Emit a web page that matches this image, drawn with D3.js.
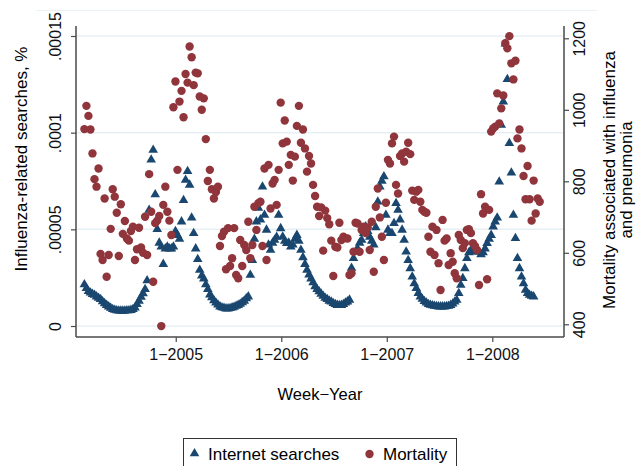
<!DOCTYPE html>
<html lang="en">
<head>
<meta charset="UTF-8">
<title>Influenza searches and mortality</title>
<script src="https://d3js.org/d3.v7.min.js"></script>
<style type="text/css">
    body { margin: 0; background: #fff; }
    svg { display: block; font-family: "Liberation Sans", Arial, sans-serif; }
</style>
</head>
<body>
<div id="chartArea"></div>
<script type="text/javascript">
// weekly observations, first week starting 20 Feb 2004
var firstWeek = new Date(2004, 1, 20);

// internet searches, in units of 1e-5 %
var searches = [
    2.15, 1.95, 1.8, 1.72, 1.65, 1.6, 1.52, 1.45, 1.38, 1.27,
    1.17, 1.08, 1.0, 0.93, 0.87, 0.83, 0.8, 0.79, 0.78, 0.78,
    0.79, 0.8, 0.8, 0.82, 0.87, 0.95, 1.12, 1.3, 1.5, 1.68,
    1.9, 2.35, 6.0, 8.6, 9.1, 6.8, 5.0, 4.3, 4.1, 3.2,
    4.0, 4.1, 4.0, 4.0, 4.1, 4.9, 4.7, 4.5, 5.4, 6.5,
    7.55, 8.0, 7.3, 5.6, 4.8, 4.0, 3.45, 2.9, 2.6, 2.45,
    2.15, 1.9, 1.62, 1.48, 1.32, 1.2, 1.1, 1.0, 0.96, 0.93,
    0.9, 0.9, 0.92, 0.95, 0.98, 1.03, 1.08, 1.14, 1.22, 1.3,
    1.42, 1.52, 2.64, 3.4, 4.5, 5.4, 6.1, 5.5, 7.2, 5.74,
    4.97, 4.2, 3.93, 4.3, 4.45, 4.6, 5.74, 5.05, 4.62, 4.4,
    4.28, 4.3, 4.1, 4.2, 4.5, 4.7, 4.4, 3.93, 3.55, 3.2,
    2.9, 2.65, 2.45, 2.25, 2.05, 1.9, 1.78, 1.66, 1.55, 1.45,
    1.38, 1.3, 1.25, 1.18, 1.12, 1.08, 1.07, 1.08, 1.12, 1.2,
    1.26, 1.35, 3.0, 3.5, 3.84, 4.0, 4.3, 4.45, 4.8, 5.14,
    4.9, 4.6, 4.4, 4.2, 5.1, 6.43, 7.2, 7.5, 7.73, 5.74,
    4.97, 4.8, 4.8, 5.31, 6.35, 6.0, 5.5, 4.97, 4.45, 3.84,
    3.4, 2.98, 2.55, 2.2, 1.95, 1.7, 1.52, 1.4, 1.28, 1.2,
    1.12, 1.09, 1.06, 1.03, 1.02, 1.0, 1.0, 1.0, 1.0, 1.02,
    1.03, 1.08, 1.15, 1.25, 1.34, 1.69, 2.12, 2.47, 2.98, 3.5,
    3.8, 3.93, 3.9, 3.85, 3.84, 3.84, 3.7, 3.8, 4.0, 4.28,
    4.5, 4.7, 5.14, 5.4, 5.6, 7.46, 10.4, 11.6, 14.6, 12.76,
    9.45, 7.93, 5.74, 4.54, 3.5, 2.98, 2.55, 2.2, 1.86, 1.69,
    1.6, 1.55, 1.52
];

// weekly deaths associated with influenza and pneumonia
var mortality = [
    946, 1011, 983, 945, 878, 806, 785, 836, 597, 580,
    752, 533, 594, 667, 778, 757, 712, 591, 736, 653,
    689, 640, 634, 661, 673, 580, 610, 670, 615, 600,
    701, 594, 820, 715, 519, 683, 690, 703, 395, 734,
    785, 715, 690, 650, 1007, 1079, 832, 1023, 1053, 979,
    1100, 1076, 1177, 1147, 1069, 1104, 1102, 1037, 1000, 1032,
    918, 801, 832, 778, 752, 770, 785,
    619, 647, 659, 554, 669, 563, 585, 669, 538, 529,
    636, 563, 622, 608, 687, 585, 622, 729, 664, 739,
    743, 619, 836, 580, 846, 724, 794, 804, 734, 832,
    1020, 906, 970, 911, 846, 874, 802, 869, 955, 1011,
    908, 945, 892, 827, 871, 850, 790, 759,
    729, 703, 727, 606, 718, 697, 680, 634, 535, 617,
    615, 684, 636, 645, 641, 640, 538, 543, 603, 684,
    682, 603, 664, 673, 655, 671, 608, 687, 547, 729,
    780, 699, 645, 580, 740, 860, 850, 906, 925, 790,
    766, 871, 878, 855, 883, 908, 876, 774, 748, 771,
    776, 743, 720, 715, 712, 645, 603, 673, 594, 664,
    571, 496,
    692, 634, 640, 566, 599, 575, 543, 529, 650, 636,
    613, 627, 664, 666, 655, 627, 619, 608, 510, 764,
    710, 729, 526, 720, 939, 948, 953, 1046, 962, 1004,
    1040, 1186, 1172, 1206, 1130, 1085, 1137, 920, 945, 892,
    815, 750, 843, 750, 690, 802, 710, 752, 743
];

var xTickYears = [2005, 2006, 2007, 2008];
var leftTicks = [0, 0.00005, 0.0001, 0.00015];
var leftTickLabels = ['0', '.00005', '.0001', '.00015'];
var rightTicks = [400, 600, 800, 1000, 1200];

var weeks = d3.range(mortality.length).map(function (i) {
    return d3.timeDay.offset(firstWeek, 7 * i);
});

var W = 639, H = 466;
var plot = { left: 76, right: 564, top: 26, bottom: 337 };
var navy = '#1a476f', maroon = '#90353b', axisColor = '#4a4a4a';

var svg = d3.select('#chartArea').append('svg')
    .attr('width', W)
    .attr('height', H);

svg.append('rect').attr('width', W).attr('height', H).attr('fill', '#fff');

// faint outer frame line at the top
svg.append('line')
    .attr('x1', 36).attr('x2', 597).attr('y1', 10.5).attr('y2', 10.5)
    .attr('stroke', '#eaf2f5').attr('stroke-width', 1);

var xScale = d3.scaleTime()
    .domain([new Date(2004, 0, 22), new Date(2008, 8, 5)])
    .range([plot.left, plot.right]);

var yLeft = d3.scaleLinear()
    .domain([0, 0.00015])
    .range([326, 36]);

var yRight = d3.scaleLinear()
    .domain([400, 1200])
    .range([324.3, 38.3]);

// gridlines
svg.append('g').selectAll('line')
    .data(leftTicks)
    .enter()
    .append('line')
    .attr('x1', plot.left).attr('x2', plot.right)
    .attr('y1', function (d) { return yLeft(d); })
    .attr('y2', function (d) { return yLeft(d); })
    .attr('stroke', '#e6f0f4').attr('stroke-width', 1.5);

// axes
var leftAxis = svg.append('g')
    .attr('transform', 'translate(' + plot.left + ',0)')
    .call(d3.axisLeft(yLeft).tickValues(leftTicks).tickSize(5)
        .tickFormat(function (d, i) { return leftTickLabels[i]; }));

var rightAxis = svg.append('g')
    .attr('transform', 'translate(' + plot.right + ',0)')
    .call(d3.axisRight(yRight).tickValues(rightTicks).tickSize(5)
        .tickFormat(d3.format('d')));

var bottomAxis = svg.append('g')
    .attr('transform', 'translate(0,' + plot.bottom + ')')
    .call(d3.axisBottom(xScale)
        .tickValues(xTickYears.map(function (y) { return new Date(y, 0, 1); }))
        .tickSize(5)
        .tickFormat(function (d) { return '1\u2212' + d.getFullYear(); }));

[leftAxis, rightAxis, bottomAxis].forEach(function (g) {
    g.select('.domain').remove();
    g.selectAll('line').attr('stroke', axisColor).attr('stroke-width', 1.2);
    g.selectAll('text').attr('fill', '#111').style('font-size', '16px')
        .style('font-family', '"Liberation Sans", Arial, sans-serif');
});

leftAxis.selectAll('text')
    .attr('x', null).attr('dy', null)
    .attr('transform', 'translate(-15,0) rotate(-90)')
    .style('text-anchor', 'middle');

rightAxis.selectAll('text')
    .attr('x', null).attr('dy', null)
    .attr('transform', 'translate(21,0) rotate(-90)')
    .style('text-anchor', 'middle');

bottomAxis.selectAll('text').attr('y', 12).attr('dy', '0.71em');

// axis lines
var frame = svg.append('g').attr('stroke', axisColor).attr('stroke-width', 1.5);
frame.append('line').attr('x1', plot.left).attr('x2', plot.left)
    .attr('y1', plot.top).attr('y2', plot.bottom);
frame.append('line').attr('x1', plot.right).attr('x2', plot.right)
    .attr('y1', plot.top).attr('y2', plot.bottom);
frame.append('line').attr('x1', plot.left).attr('x2', plot.right)
    .attr('y1', plot.bottom).attr('y2', plot.bottom);

// markers
var triangle = d3.symbol().type(d3.symbolTriangle).size(40);

svg.append('g').selectAll('path')
    .data(searches)
    .enter()
    .append('path')
    .attr('d', triangle)
    .attr('transform', function (d, i) {
        return 'translate(' + xScale(weeks[i]) + ',' + yLeft(d * 1e-5) + ')';
    })
    .attr('fill', navy);

svg.append('g').selectAll('circle')
    .data(mortality)
    .enter()
    .append('circle')
    .attr('cx', function (d, i) { return xScale(weeks[i]); })
    .attr('cy', function (d) { return yRight(d); })
    .attr('r', 4.2)
    .attr('fill', maroon);

// titles
svg.append('text')
    .attr('transform', 'translate(27,159) rotate(-90)')
    .attr('text-anchor', 'middle')
    .style('font-size', '17px')
    .text('Influenza-related searches, %');

svg.append('text')
    .attr('transform', 'translate(615,180) rotate(-90)')
    .attr('text-anchor', 'middle')
    .style('font-size', '17px')
    .text('Mortality associated with influenza');

svg.append('text')
    .attr('transform', 'translate(632,180) rotate(-90)')
    .attr('text-anchor', 'middle')
    .style('font-size', '17px')
    .text('and pneumonia');

svg.append('text')
    .attr('x', 320).attr('y', 400)
    .attr('text-anchor', 'middle')
    .style('font-size', '16.5px')
    .text('Week\u2212Year');

// legend
var legend = svg.append('g');
legend.append('rect')
    .attr('x', 183.5).attr('y', 438.5)
    .attr('width', 273).attr('height', 40)
    .attr('fill', '#fff').attr('stroke', '#333').attr('stroke-width', 1);

legend.append('path')
    .attr('d', triangle)
    .attr('transform', 'translate(194.5,453.5)')
    .attr('fill', navy);
legend.append('text')
    .attr('x', 208).attr('y', 460)
    .style('font-size', '17px')
    .text('Internet searches');

legend.append('circle')
    .attr('cx', 369.5).attr('cy', 454)
    .attr('r', 4.2)
    .attr('fill', maroon);
legend.append('text')
    .attr('x', 383).attr('y', 460)
    .style('font-size', '17px')
    .text('Mortality');
</script>
</body>
</html>
